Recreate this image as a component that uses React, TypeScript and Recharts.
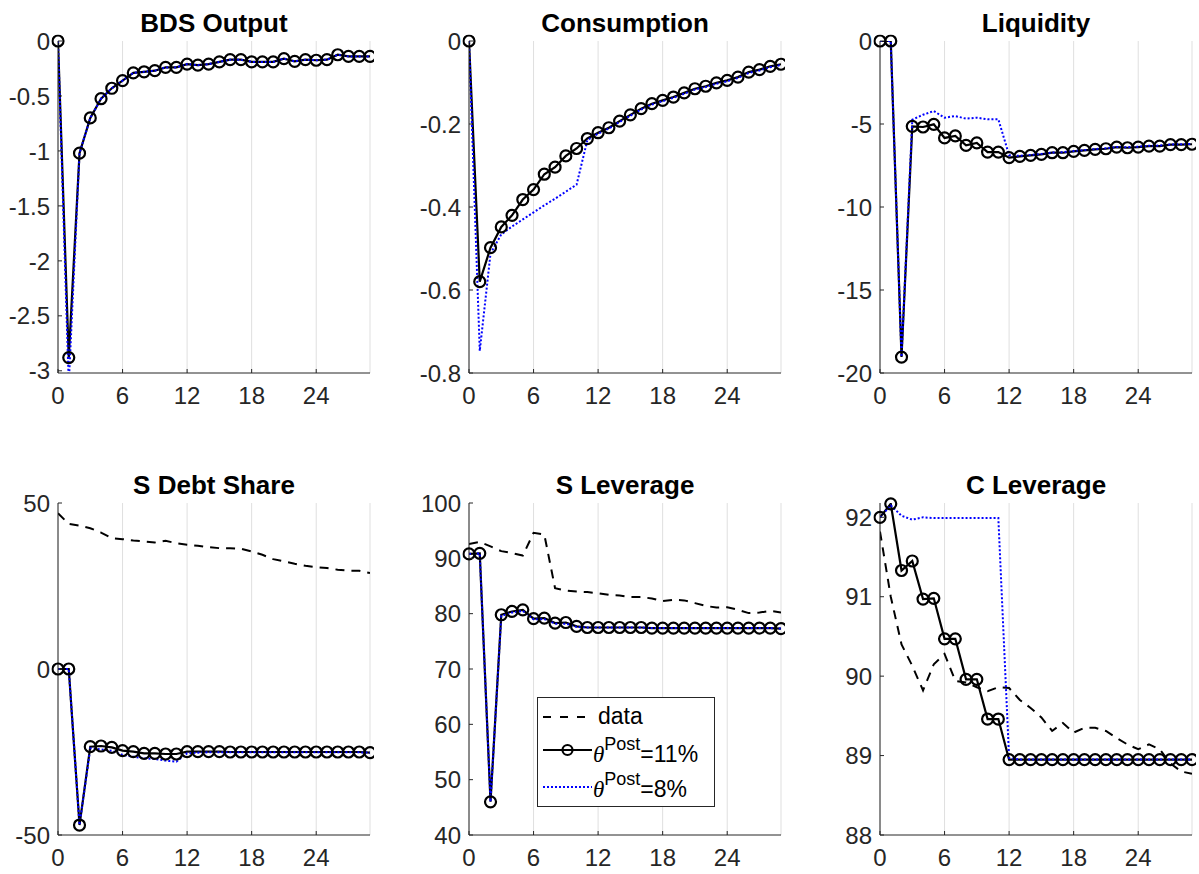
import React from 'react';
import { LineChart, Line, XAxis, YAxis, CartesianGrid } from 'recharts';

// ---------- data ----------
const periods = [0, 1, 2, 3, 4, 5, 6, 7, 8, 9, 10, 11, 12, 13, 14, 15, 16, 17, 18, 19, 20, 21, 22, 23, 24, 25, 26, 27, 28, 29];
const xTicks = [0, 6, 12, 18, 24];

const bdsOutput11 = [0, -2.88, -1.02, -0.7, -0.525, -0.43, -0.36, -0.29, -0.28, -0.27, -0.24, -0.24, -0.21, -0.22, -0.21, -0.19, -0.17, -0.17, -0.19, -0.19, -0.19, -0.16, -0.185, -0.17, -0.175, -0.17, -0.125, -0.14, -0.14, -0.14];
const bdsOutput8 = [0, -3.12, -1.02, -0.7, -0.525, -0.43, -0.36, -0.29, -0.28, -0.27, -0.24, -0.24, -0.21, -0.22, -0.21, -0.19, -0.17, -0.17, -0.19, -0.19, -0.19, -0.16, -0.185, -0.17, -0.175, -0.17, -0.125, -0.14, -0.14, -0.14];

const consumption11 = [0, -0.58, -0.498, -0.448, -0.42, -0.382, -0.358, -0.321, -0.304, -0.277, -0.259, -0.235, -0.221, -0.209, -0.193, -0.178, -0.163, -0.151, -0.143, -0.135, -0.125, -0.115, -0.109, -0.101, -0.095, -0.087, -0.075, -0.069, -0.061, -0.056];
const consumption8 = [0, -0.747, -0.512, -0.466, -0.447, -0.43, -0.413, -0.396, -0.38, -0.363, -0.346, -0.239, -0.223, -0.211, -0.195, -0.18, -0.165, -0.153, -0.145, -0.137, -0.127, -0.117, -0.111, -0.103, -0.097, -0.089, -0.077, -0.071, -0.063, -0.058];

const liquidity11 = [0, 0, -19.04, -5.14, -5.18, -5.02, -5.84, -5.72, -6.29, -6.14, -6.69, -6.69, -7.03, -6.95, -6.89, -6.83, -6.73, -6.73, -6.65, -6.59, -6.53, -6.49, -6.39, -6.43, -6.39, -6.33, -6.33, -6.24, -6.24, -6.22];
const liquidity8 = [0, 0, -19.04, -4.74, -4.44, -4.22, -4.62, -4.52, -4.68, -4.62, -4.72, -4.72, -6.88, -6.92, -6.86, -6.8, -6.72, -6.7, -6.63, -6.57, -6.51, -6.46, -6.38, -6.4, -6.37, -6.31, -6.3, -6.23, -6.22, -6.2];

const sDebtShareData = [46.9, 43.7, 43.2, 42.4, 41.1, 39.4, 39.1, 38.7, 38.4, 38.1, 38.6, 37.9, 37.4, 37.1, 36.7, 36.4, 36.4, 36.2, 35.4, 34.4, 33.1, 32.4, 31.7, 31.1, 30.7, 30.4, 29.9, 29.6, 29.6, 28.9];
const sDebtShare11 = [0, 0, -47, -23.4, -23.2, -23.6, -24.6, -24.9, -25.4, -25.4, -25.6, -25.6, -24.9, -24.9, -24.9, -24.9, -25.0, -25.0, -25.0, -25.0, -25.0, -25.0, -25.0, -25.0, -25.0, -25.0, -25.0, -25.0, -25.0, -25.2];
const sDebtShare8 = [0, 0, -47, -23.9, -24.2, -24.6, -25.9, -26.4, -26.9, -27.1, -27.6, -27.9, -25.4, -25.2, -25.1, -25.1, -25.1, -25.1, -25.1, -25.1, -25.1, -25.1, -25.1, -25.1, -25.1, -25.1, -25.1, -25.1, -25.1, -25.2];

const sLeverageData = [92.6, 92.95, 92.15, 91.3, 90.95, 90.5, 94.6, 94.3, 84.6, 84.2, 84.0, 83.9, 83.7, 83.4, 83.3, 83.0, 83.0, 82.75, 82.3, 82.5, 82.4, 81.9, 81.4, 81.1, 81.15, 80.7, 80.1, 80.2, 80.5, 80.2];
const sLeverage11 = [90.8, 90.9, 46.0, 79.8, 80.4, 80.7, 79.1, 79.2, 78.3, 78.4, 77.7, 77.5, 77.5, 77.5, 77.5, 77.5, 77.5, 77.4, 77.4, 77.4, 77.4, 77.4, 77.4, 77.4, 77.4, 77.4, 77.4, 77.4, 77.4, 77.3];
const sLeverage8 = [90.8, 90.9, 46.0, 79.6, 80.2, 80.5, 79.0, 79.0, 78.2, 78.2, 77.6, 77.5, 77.5, 77.5, 77.5, 77.5, 77.5, 77.4, 77.4, 77.4, 77.4, 77.4, 77.4, 77.4, 77.4, 77.4, 77.4, 77.4, 77.4, 77.3];

const cLeverageData = [91.82, 91.0, 90.4, 90.13, 89.82, 90.15, 90.28, 89.94, 89.92, 89.86, 89.81, 89.86, 89.85, 89.7, 89.6, 89.48, 89.31, 89.41, 89.29, 89.35, 89.35, 89.31, 89.22, 89.14, 89.08, 89.14, 89.08, 88.9, 88.8, 88.77];
const cLeverage11 = [92.0, 92.17, 91.33, 91.45, 90.97, 90.98, 90.47, 90.47, 89.96, 89.96, 89.46, 89.46, 88.95, 88.95, 88.95, 88.95, 88.95, 88.95, 88.95, 88.95, 88.95, 88.95, 88.95, 88.95, 88.95, 88.95, 88.95, 88.95, 88.95, 88.95];
const cLeverage8 = [92.0, 92.15, 92.02, 91.97, 92.0, 91.99, 91.99, 91.99, 91.99, 91.99, 91.99, 91.99, 88.97, 88.95, 88.95, 88.95, 88.95, 88.95, 88.95, 88.95, 88.95, 88.95, 88.95, 88.95, 88.95, 88.95, 88.95, 88.95, 88.95, 88.95];

const panelTitles = ['BDS Output', 'Consumption', 'Liquidity', 'S Debt Share', 'S Leverage', 'C Leverage'];
const bdsTicks = [-3, -2.5, -2, -1.5, -1, -0.5, 0];
const consumptionTicks = [-0.8, -0.6, -0.4, -0.2, 0];
const liquidityTicks = [-20, -15, -10, -5, 0];
const sDebtTicks = [-50, 0, 50];
const sLevTicks = [40, 50, 60, 70, 80, 90, 100];
const cLevTicks = [88, 89, 90, 91, 92];
const legendLabels = ['data', '=11%', '=8%'];

// ---------- styling ----------
const FONT = "'Liberation Sans', Arial, Helvetica, sans-serif";
const AX = '#262626';
const TICK_FS = 24;
const PLOT_W = 312;
const PLOT_H = 332;
const YW = 60;
const MT = 40;
const MR = 4;
const XH = 40;

function buildRows(s11: number[], s8: number[], data?: number[]) {
  return periods.map((t, i) => ({ t, s11: s11[i], s8: s8[i], data: data ? data[i] : undefined }));
}

function XTick(props: any) {
  const { x, y, payload } = props;
  return (
    <g>
      <line x1={x} x2={x} y1={y} y2={y - 4} stroke={AX} strokeWidth={1} />
      <text x={x} y={y + 31} textAnchor="middle" fontSize={TICK_FS} fontFamily={FONT} fill={AX}>
        {String(payload.value)}
      </text>
    </g>
  );
}

function YTick(props: any) {
  const { x, y, payload } = props;
  return (
    <g>
      <line x1={x} x2={x + 4} y1={y} y2={y} stroke={AX} strokeWidth={1} />
      <text x={x - 8} y={y} dy="0.36em" textAnchor="end" fontSize={TICK_FS} fontFamily={FONT} fill={AX}>
        {String(payload.value)}
      </text>
    </g>
  );
}

type PanelProps = {
  left: number;
  top: number;
  yDomain: [number, number];
  yTicks: number[];
  rows: any[];
  hasData: boolean;
};

function Panel({ left, top, yDomain, yTicks, rows, hasData }: PanelProps) {
  return (
    <div style={{ position: 'absolute', left: left - YW, top: top - MT }}>
      <LineChart
        width={YW + PLOT_W + MR}
        height={MT + PLOT_H + XH}
        data={rows}
        margin={{ top: MT, right: MR, bottom: 0, left: 0 }}
      >
        <CartesianGrid horizontal={false} stroke="#dfdfdf" strokeWidth={1} />
        <XAxis
          type="number"
          dataKey="t"
          domain={[0, 29]}
          ticks={xTicks}
          interval={0}
          tick={<XTick />}
          tickLine={false}
          tickSize={0}
          tickMargin={0}
          height={XH}
          stroke={AX}
          allowDataOverflow
        />
        <YAxis
          type="number"
          domain={yDomain}
          ticks={yTicks}
          interval={0}
          tick={<YTick />}
          tickLine={false}
          tickSize={0}
          tickMargin={0}
          width={YW}
          stroke={AX}
          allowDataOverflow
        />
        {hasData && (
          <Line type="linear" dataKey="data" stroke="#000" strokeWidth={2} strokeDasharray="9 7" dot={false} isAnimationActive={false} />
        )}
        <Line
          type="linear"
          dataKey="s11"
          stroke="#000"
          strokeWidth={2.2}
          dot={{ r: 5.5, stroke: '#000', strokeWidth: 2.2, fill: 'none', clipDot: false }}
          isAnimationActive={false}
        />
        <Line type="linear" dataKey="s8" stroke="#0000ff" strokeWidth={2} strokeDasharray="2 2" dot={false} isAnimationActive={false} />
      </LineChart>
    </div>
  );
}

const colLeft = [58, 469, 880];
const rowTop = [41, 503];

export default function App() {
  const panels = [
    { rows: buildRows(bdsOutput11, bdsOutput8), yDomain: [-3.02, 0] as [number, number], yTicks: bdsTicks, hasData: false },
    { rows: buildRows(consumption11, consumption8), yDomain: [-0.8, 0] as [number, number], yTicks: consumptionTicks, hasData: false },
    { rows: buildRows(liquidity11, liquidity8), yDomain: [-20, 0] as [number, number], yTicks: liquidityTicks, hasData: false },
    { rows: buildRows(sDebtShare11, sDebtShare8, sDebtShareData), yDomain: [-50, 50] as [number, number], yTicks: sDebtTicks, hasData: true },
    { rows: buildRows(sLeverage11, sLeverage8, sLeverageData), yDomain: [40, 100] as [number, number], yTicks: sLevTicks, hasData: true },
    { rows: buildRows(cLeverage11, cLeverage8, cLeverageData), yDomain: [88, 92.18] as [number, number], yTicks: cLevTicks, hasData: true },
  ];

  const legX = 537;
  const legY = 697;

  return (
    <div style={{ position: 'absolute', left: 0, top: 0, width: 1199, height: 874, overflow: 'hidden', background: '#fff' }}>
      {panels.map((p, i) => (
        <Panel
          key={i}
          left={colLeft[i % 3]}
          top={rowTop[Math.floor(i / 3)]}
          yDomain={p.yDomain}
          yTicks={p.yTicks}
          rows={p.rows}
          hasData={p.hasData}
        />
      ))}
      <svg width={1199} height={874} style={{ position: 'absolute', left: 0, top: 0, pointerEvents: 'none' }}>
        {panelTitles.map((title, i) => (
          <text
            key={title}
            x={colLeft[i % 3] + PLOT_W / 2}
            y={rowTop[Math.floor(i / 3)] - 9}
            textAnchor="middle"
            fontSize={26}
            fontWeight="bold"
            fontFamily={FONT}
            fill="#000"
          >
            {title}
          </text>
        ))}
        <g transform={`translate(${legX},${legY})`}>
          <rect x={0.5} y={0.5} width={177} height={109} fill="#fff" stroke={AX} strokeWidth={1} />
          <line x1={6} x2={48} y1={20} y2={20} stroke="#000" strokeWidth={2} strokeDasharray="8 9" />
          <text x={61} y={27} fontSize={23} fontFamily={FONT} fill="#000">{legendLabels[0]}</text>

          <line x1={6} x2={55} y1={53} y2={53} stroke="#000" strokeWidth={2.2} />
          <circle cx={30.5} cy={53} r={5} fill="none" stroke="#000" strokeWidth={2.2} />
          <text x={56} y={64.5} fontSize={23} fontFamily={FONT} fill="#000">
            <tspan fontFamily="'Liberation Serif', 'Times New Roman', serif" fontStyle="italic">θ</tspan>
            <tspan fontSize={18} dy={-12}>Post</tspan>
            <tspan dy={12}>{legendLabels[1]}</tspan>
          </text>

          <line x1={6} x2={55} y1={90} y2={90} stroke="#0000ff" strokeWidth={2} strokeDasharray="2 2" />
          <text x={56} y={100} fontSize={23} fontFamily={FONT} fill="#000">
            <tspan fontFamily="'Liberation Serif', 'Times New Roman', serif" fontStyle="italic">θ</tspan>
            <tspan fontSize={18} dy={-12}>Post</tspan>
            <tspan dy={12}>{legendLabels[2]}</tspan>
          </text>
        </g>
      </svg>
    </div>
  );
}
